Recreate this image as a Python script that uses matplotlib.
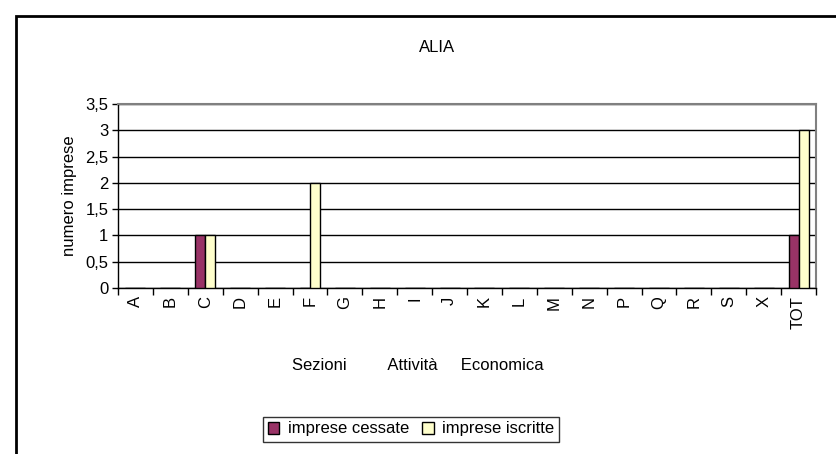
import matplotlib

matplotlib.use("Agg")
import matplotlib.pyplot as plt
import numpy as np
from matplotlib.patches import Rectangle

plt.rcParams["font.family"] = ["Liberation Sans", "DejaVu Sans"]

sections = ["A", "B", "C", "D", "E", "F", "G", "H", "I", "J", "K", "L",
            "M", "N", "P", "Q", "R", "S", "X", "TOT"]
cessate = [0, 0, 1, 0, 0, 0, 0, 0, 0, 0, 0, 0, 0, 0, 0, 0, 0, 0, 0, 1]
iscritte = [0, 0, 1, 0, 0, 2, 0, 0, 0, 0, 0, 0, 0, 0, 0, 0, 0, 0, 0, 3]
yticks = [0, 0.5, 1, 1.5, 2, 2.5, 3, 3.5]

W, H = 836, 454
fs = 12
fig = plt.figure(figsize=(W / 100, H / 100), dpi=100)
# plot area in pixels: left 118, right 816, top 104, bottom 288
ax = fig.add_axes([118 / W, 1 - 288 / H, (816 - 118) / W, (288 - 104) / H])

x = np.arange(len(sections))
w = 0.287
ax.bar(x - w / 2, cessate, w, color="#993366", edgecolor="black", lw=1.0,
       label="imprese cessate", zorder=3)
ax.bar(x + w / 2, iscritte, w, color="#FFFFCC", edgecolor="black", lw=1.0,
       label="imprese iscritte", zorder=3)

ax.set_xlim(-0.5, len(sections) - 0.5)
ax.set_ylim(0, 3.5)
ax.set_yticks(yticks, [f"{v:g}".replace(".", ",") for v in yticks], fontsize=fs)
ax.set_xticks(x, sections, rotation=90, fontsize=fs)
ax.set_xticks(np.arange(-0.5, len(sections)), minor=True)
ax.tick_params(axis="x", which="major", length=0, pad=6)
ax.tick_params(axis="x", which="minor", length=5, width=1, direction="out")
ax.tick_params(axis="y", length=4, width=1, direction="out", pad=3)

ax.grid(axis="y", color="black", lw=1, zorder=0)
for s in ("top", "right"):
    ax.spines[s].set_color("#808080")
    ax.spines[s].set_linewidth(1.5)
for s in ("left", "bottom"):
    ax.spines[s].set_color("black")
    ax.spines[s].set_linewidth(1)

ax.set_ylabel("numero imprese", fontsize=fs, labelpad=6)
fig.text(418 / W, 1 - 366 / H, "Sezioni         Attività     Economica",
         ha="center", va="center", fontsize=fs)
fig.text(437 / W, 1 - 47 / H, "ALIA", ha="center", va="center", fontsize=fs)

leg = fig.legend(loc="center", bbox_to_anchor=(411 / W, 1 - 429 / H), ncol=2,
                 fontsize=fs, frameon=True, fancybox=False, edgecolor="black",
                 handlelength=0.7, handleheight=0.7, handletextpad=0.5,
                 columnspacing=0.8, borderpad=0.3, borderaxespad=0)
leg.get_frame().set_linewidth(1)

# outer chart frame (extends past the right/bottom edges)
fig.patches.append(Rectangle((16 / W, -0.1), 1.1, 1 - 16 / H + 0.1,
                             transform=fig.transFigure, fill=False,
                             edgecolor="black", lw=2))

fig.savefig("out.png", dpi=100)
